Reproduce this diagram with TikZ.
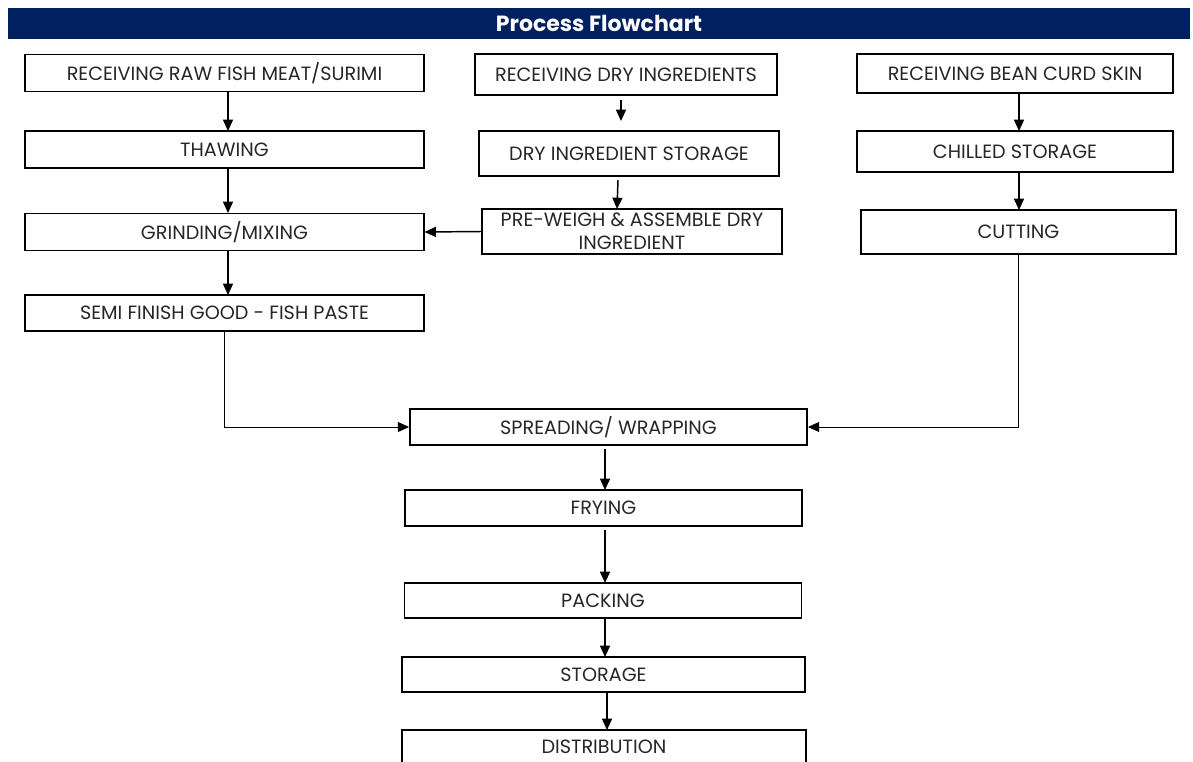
\documentclass[tikz,border=0pt]{standalone}
\usepackage{fontspec}
\setmainfont{Poppins}
\usepackage{tikz}
\usetikzlibrary{arrows.meta, positioning}
\definecolor{titlecolor}{HTML}{002060}
\newcommand{\textcol}{black!85}

\begin{document}
\begin{tikzpicture}[
      % GLOBAL CFG
      x=0.75pt, y=-0.75pt,
      font=\fontsize{14.4pt}{16pt}\selectfont,
      >={Triangle[length=8.5pt,width=7.5pt]},
      % Styles
      stepbox/.style={% For process steps
        rectangle,
        draw,
        line width=1.1pt,
        text=\textcol,
        inner sep=0pt,
        minimum width=299pt,
        minimum height=28pt
      },
      title/.style={% For the heading bar
        rectangle,
        fill=titlecolor,
        text=white,
        inner sep=0pt,
        minimum width=886.5pt,
        minimum height=23pt,
        font=\fontsize{16.5pt}{18pt}\selectfont\bfseries
      },
      arrowstep/.style={% Arrows between steps
        line width=1.1pt,
        ->,
      },
      arrowjoin/.style={% Arrows joining branches
        line width=0.7pt,
        ->,
      }
      ]
      \useasboundingbox (0,0) rectangle (1193,761);

      % Heading
      \node [title] (head) at (599,23.5) {Process Flowchart};

      % Fish branch
      \node [stepbox] (rawfish) at (224.5,73) {RECEIVING RAW FISH MEAT/SURIMI};
      \node [stepbox] (thaw) at (224.5,149.5) {THAWING};
      \node [stepbox] (grind) at (224.5,232) {GRINDING/MIXING};
      \node [stepbox, minimum height=27pt] (paste) at (224.5,313) {SEMI FINISH GOOD - FISH PASTE};
      \draw [arrowstep] (228,92) -- (228,131);
      \draw [arrowstep] (228,168) -- (228,213);
      \draw [arrowstep] (228,251) -- (228,295);

      % Dry ingredient branch
      \node [stepbox, minimum width=226.5pt, minimum height=31pt] (drying) at (626,74.5) {RECEIVING DRY INGREDIENTS};
      \node [stepbox, minimum width=225pt, minimum height=34pt] (drystore) at (629,153.5) {DRY INGREDIENT STORAGE};
      \node [stepbox, minimum width=225pt, minimum height=34pt, align=center, font=\fontsize{14.4pt}{17pt}\selectfont] (weigh) at (632,231.5) {PRE-WEIGH \& ASSEMBLE DRY\\INGREDIENT};
      \draw [arrowstep] (621,100) -- (621,121);
      \draw [arrowstep] (618,180) -- (617,209);
      \draw [arrowstep] (weigh.west) -- (grind.east);

      % Bean curd branch
      \node [stepbox, minimum width=237pt, minimum height=29pt] (beancurd) at (1015,73.5) {RECEIVING BEAN CURD SKIN};
      \node [stepbox, minimum width=237pt, minimum height=31pt] (chill) at (1015,151.5) {CHILLED STORAGE};
      \node [stepbox, minimum width=236pt, minimum height=33pt] (cut) at (1018.5,232) {CUTTING};
      \draw [arrowstep] (1019,93) -- (1019,131);
      \draw [arrowstep] (1019,172) -- (1019,210);

      % Main line
      \node [stepbox, minimum width=298pt, minimum height=27pt] (wrap) at (608.5,427) {SPREADING/ WRAPPING};
      \node [stepbox, minimum width=298pt, minimum height=27pt] (fry) at (603.5,508) {FRYING};
      \node [stepbox, minimum width=298pt, minimum height=26pt] (pack) at (603,600.5) {PACKING};
      \node [stepbox, minimum width=302pt, minimum height=26pt] (store) at (603.5,674.5) {STORAGE};
      \node [stepbox, minimum width=303pt, minimum height=25.5pt] (distrib) at (604,747) {DISTRIBUTION};

      \draw [arrowjoin] (paste.south -| 224,0) |- (wrap.west);
      \draw [arrowjoin] (cut.south) |- (wrap.east);
      \draw [arrowstep] (605,449) -- (605,490);
      \draw [arrowstep] (605,530) -- (605,583);
      \draw [arrowstep] (605,618) -- (605,657);
      \draw [arrowstep] (607,692) -- (607,730);

    \end{tikzpicture}
\end{document}
